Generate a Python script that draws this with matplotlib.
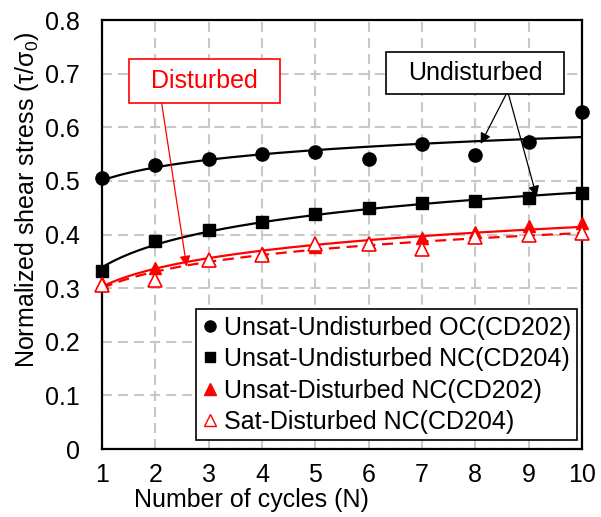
import numpy as np
import matplotlib.pyplot as plt
from matplotlib.lines import Line2D
from matplotlib.patches import Rectangle

plt.rcParams['font.family'] = ['Liberation Sans', 'DejaVu Sans']
plt.rcParams['mathtext.default'] = 'regular'

# Shear stress ratio per loading cycle
cycles = np.arange(1, 11)
oc_cd202 = [0.506, 0.530, 0.540, 0.550, 0.554, 0.540, 0.568, 0.549, 0.573, 0.629]
nc_cd204 = [0.332, 0.387, 0.408, 0.424, 0.438, 0.449, 0.458, 0.462, 0.469, 0.477]
dist_unsat = [0.309, 0.337, 0.352, 0.365, 0.376, 0.385, 0.393, 0.405, 0.415, 0.422]
dist_sat = [0.306, 0.316, 0.352, 0.362, 0.383, 0.383, 0.373, 0.396, 0.399, 0.403]

labels = ["Unsat-Undisturbed OC(CD202)", "Unsat-Undisturbed NC(CD204)",
          "Unsat-Disturbed NC(CD202)", "Sat-Disturbed NC(CD204)"]

FS = 18

fig = plt.figure(figsize=(6.01, 5.17), dpi=100)
ax = fig.add_axes([0.1697, 0.1315, 0.7987, 0.8298])

xs = np.linspace(1, 10, 200)

def log_trend(y):
    b, a = np.polyfit(np.log(cycles), y, 1)
    return a + b * np.log(xs)

# logarithmic trend lines
ax.plot(xs, log_trend(oc_cd202), color='black', lw=1.6, zorder=3)
ax.plot(xs, log_trend(nc_cd204), color='black', lw=1.6, zorder=3)
ax.plot(xs, log_trend(dist_unsat), color='red', lw=1.6, zorder=3)
ax.plot(xs, log_trend(dist_sat), color='red', lw=1.6, ls=(0, (5, 3)), zorder=3)

# measured points
ax.plot(cycles, oc_cd202, 'o', color='black', ms=9.5, ls='none', clip_on=False, zorder=4)
ax.plot(cycles, nc_cd204, 's', color='black', ms=9, ls='none', clip_on=False, zorder=4)
ax.plot(cycles, dist_unsat, '^', color='red', ms=9, ls='none', clip_on=False, zorder=5)
ax.plot(cycles, dist_sat, '^', mfc='white', mec='red', mew=1.2, ms=9.5, ls='none',
        clip_on=False, zorder=5)

ax.set_xlim(1, 10)
ax.set_ylim(0, 0.8)
ax.set_xticks(cycles)
ax.set_yticks(np.arange(0, 0.81, 0.1))
ax.set_yticklabels(['0'] + ['%.1f' % v for v in np.arange(0.1, 0.81, 0.1)])
ax.grid(True, color='#c8c8c8', ls=(0, (4.8, 2.9)), lw=1.5)
ax.set_axisbelow(True)
ax.tick_params(length=0, labelsize=FS)
ax.tick_params(axis='x', pad=10)
ax.tick_params(axis='y', pad=16)
for s in ax.spines.values():
    s.set_linewidth(1.6)

ax.set_xlabel("Number of cycles (N)", fontsize=FS)
ax.set_ylabel("Normalized shear stress (τ/σ$_0$)", fontsize=FS)
ax.xaxis.set_label_coords(0.312, -0.09)
ax.yaxis.set_label_coords(-0.128, 0.58)

# callout boxes with arrows
ax.add_patch(Rectangle((1.512, 0.6447), 2.826, 0.082, fc='white', ec='red', lw=1.2,
                       zorder=6))
ax.text(2.925, 0.686, "Disturbed", color='red', fontsize=FS, ha='center', va='center',
        zorder=7)
ax.annotate("", xy=(2.588, 0.340), xytext=(2.119, 0.6447),
            arrowprops=dict(arrowstyle='-|>', color='red', lw=0.9, mutation_scale=16,
                            shrinkA=0, shrinkB=0), zorder=6)

ax.add_patch(Rectangle((6.325, 0.662), 3.338, 0.079, fc='white', ec='black', lw=1.2,
                       zorder=6))
ax.text(7.994, 0.702, "Undisturbed", fontsize=FS, ha='center', va='center', zorder=7)
for start, tip in [((8.58, 0.662), (8.10, 0.569)), ((8.62, 0.662), (9.15, 0.4705))]:
    ax.annotate("", xy=tip, xytext=start,
                arrowprops=dict(arrowstyle='-|>', color='black', lw=0.9, mutation_scale=16,
                                shrinkA=0, shrinkB=0), zorder=6)

handles = [
    Line2D([], [], marker='o', color='black', ls='none', ms=8),
    Line2D([], [], marker='s', color='black', ls='none', ms=7.5),
    Line2D([], [], marker='^', color='red', ls='none', ms=8),
    Line2D([], [], marker='^', mfc='white', mec='red', ls='none', ms=8),
]
leg = ax.legend(handles, labels, loc='lower right', bbox_to_anchor=(0.99, 0.02),
                fontsize=FS, handlelength=0.6, handletextpad=0.25, labelspacing=0.3,
                borderpad=0.25, borderaxespad=0.0, fancybox=False, framealpha=1,
                edgecolor='black')
leg.get_frame().set_linewidth(1.2)
leg.set_zorder(8)

fig.savefig("out.png", dpi=100)
